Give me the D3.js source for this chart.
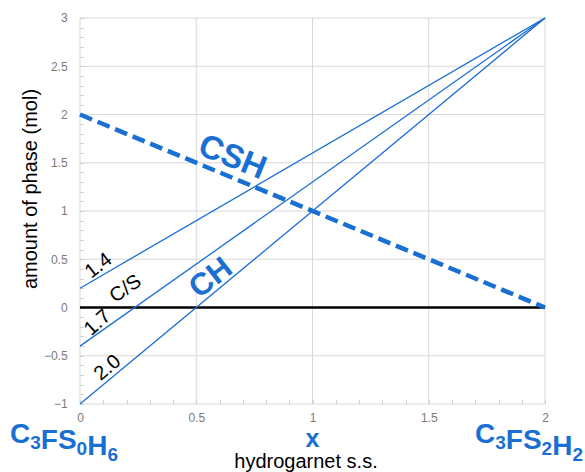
<!DOCTYPE html>
<html>
<head>
<meta charset="utf-8">
<script src="https://cdn.jsdelivr.net/npm/d3@7"></script>
<style>
body{margin:0;background:#fff;font-family:"Liberation Sans",Arial,sans-serif}
.tick text{fill:#7a7a7a;font-size:12px}
</style>
</head>
<body>
<div class="graph"></div>
<script>
// x = hydrogarnet s.s. composition, y = amount of phase (mol)
var xTicks = [0, 0.5, 1, 1.5, 2]
var yTicks = [-1, -0.5, 0, 0.5, 1, 1.5, 2, 2.5, 3]

// CH lines, one per C/S ratio
var csRatios = ['1.4', '1.7', '2.0']
var chStart = [0.2, -0.4, -1]
var chEnd = [3, 3, 3]

// CSH line
var cshX = [0, 2]
var cshY = [2, 0]

var blue = '#1a6fd2'

var width = 585, height = 472
var margin = {left: 80, right: 40, top: 18, bottom: 68}

var svg = d3.select('.graph').append('svg')
  .attr('width', width).attr('height', height)

var x = d3.scaleLinear().domain([0, 2]).range([margin.left, width - margin.right])
var y = d3.scaleLinear().domain([-1, 3]).range([height - margin.bottom, margin.top])

// grid
svg.append('g').selectAll('line').data(yTicks).join('line')
  .attr('x1', x(0)).attr('x2', x(2))
  .attr('y1', d => y(d)).attr('y2', d => y(d))
  .attr('stroke', '#d9d9d9')
svg.append('g').selectAll('line').data(xTicks).join('line')
  .attr('x1', d => x(d)).attr('x2', d => x(d))
  .attr('y1', y(-1)).attr('y2', y(3))
  .attr('stroke', '#d9d9d9')

// minor ticks inside the left and bottom edges
svg.append('g').selectAll('line').data(d3.range(-1, 3.001, 0.1)).join('line')
  .attr('x1', x(0)).attr('x2', x(0) + 4)
  .attr('y1', d => Math.round(y(d)) + .5).attr('y2', d => Math.round(y(d)) + .5)
  .attr('stroke', '#cfcfcf')
svg.append('g').selectAll('line').data(d3.range(0, 2.001, 0.1)).join('line')
  .attr('x1', d => Math.round(x(d)) + .5).attr('x2', d => Math.round(x(d)) + .5)
  .attr('y1', y(-1)).attr('y2', y(-1) - 4)
  .attr('stroke', '#cfcfcf')

// axes (labels only)
var yAxis = svg.append('g').attr('transform', `translate(${x(0) - 7},0)`)
  .call(d3.axisLeft(y).tickValues(yTicks).tickSize(0).tickFormat(d3.format('')))
yAxis.select('.domain').remove()
yAxis.selectAll('.tick text').attr('dx', '-0.2em')

var xAxis = svg.append('g').attr('transform', `translate(0,${y(-1) + 6})`)
  .call(d3.axisBottom(x).tickValues(xTicks).tickSize(0).tickFormat(d3.format('')))
xAxis.select('.domain').remove()

// zero line
svg.append('line')
  .attr('x1', x(0)).attr('x2', x(2))
  .attr('y1', y(0)).attr('y2', y(0))
  .attr('stroke', '#000').attr('stroke-width', 2.5)

// CH lines
svg.append('g').selectAll('line').data(csRatios).join('line')
  .attr('x1', x(0)).attr('x2', x(2))
  .attr('y1', (d, i) => y(chStart[i])).attr('y2', (d, i) => y(chEnd[i]))
  .attr('stroke', blue).attr('stroke-width', 1.3)

// CSH dashed line
svg.append('line')
  .attr('x1', x(cshX[0])).attr('x2', x(cshX[1]))
  .attr('y1', y(cshY[0])).attr('y2', y(cshY[1]))
  .attr('stroke', blue).attr('stroke-width', 4.5)
  .attr('stroke-dasharray', '13 6')

// rotated labels along the lines
function label(txt, px, py, angle, size, fill, weight){
  return svg.append('text')
    .attr('transform', `translate(${px},${py}) rotate(${angle})`)
    .attr('text-anchor', 'middle')
    .attr('dy', '.35em')
    .style('font-size', size + 'px')
    .style('font-weight', weight || 'normal')
    .attr('fill', fill)
    .text(txt)
}

var csPos = [[98, 265], [97, 322], [107, 367]]
var csAngle = [-38, -42, -40]
csRatios.forEach((d, i) => label(d, csPos[i][0], csPos[i][1], csAngle[i], 20, '#000'))
label('C/S', 125, 288, -35, 20, '#000')
label('CH', 210, 277, -38, 31, blue, 'bold')
label('CSH', 233, 156, 22, 33, blue, 'bold')

// axis titles
svg.append('text')
  .attr('transform', `translate(37,189) rotate(-90)`)
  .attr('text-anchor', 'middle')
  .style('font-size', '20px')
  .text('amount of phase (mol)')

svg.append('text')
  .attr('x', 306).attr('y', 468)
  .attr('text-anchor', 'middle')
  .style('font-size', '20px')
  .text('hydrogarnet s.s.')

// end member formulas
function formula(parts, px, anchor){
  var t = svg.append('text')
    .attr('x', px).attr('y', 443)
    .attr('text-anchor', anchor)
    .attr('fill', blue)
    .style('font-weight', 'bold')
    .style('font-size', '28px')
  parts.forEach(p => {
    t.append('tspan')
      .attr('dy', p.sub ? 6 : 0)
      .style('font-size', p.sub ? '19px' : '28px')
      .text(p.t)
    if (p.sub) t.append('tspan').attr('dy', -6).text('')
  })
}

formula([{t: 'C'}, {t: '3', sub: 1}, {t: 'FS'}, {t: '0', sub: 1}, {t: 'H'}, {t: '6', sub: 1}], 10, 'start')
formula([{t: 'C'}, {t: '3', sub: 1}, {t: 'FS'}, {t: '2', sub: 1}, {t: 'H'}, {t: '2', sub: 1}], 583, 'end')

svg.append('text')
  .attr('x', x(1)).attr('y', 447)
  .attr('text-anchor', 'middle')
  .attr('fill', blue)
  .style('font-weight', 'bold')
  .style('font-size', '25px')
  .text('x')
</script>
</body>
</html>
